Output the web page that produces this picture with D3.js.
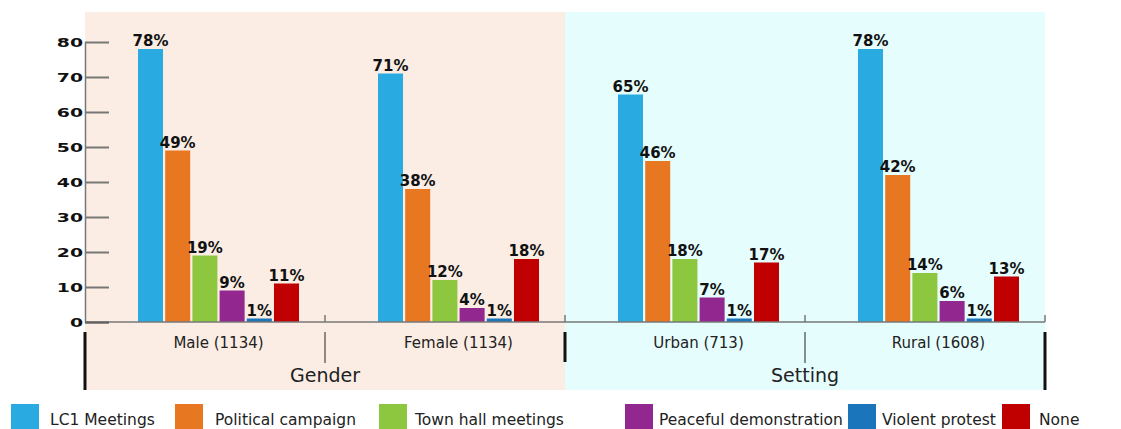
<!DOCTYPE html>
<html>
<head>
<meta charset="utf-8">
<script src="https://cdn.jsdelivr.net/npm/d3@7"></script>
<style>
  body { margin: 0; background: #fff; }
  svg { display: block; font-family: "DejaVu Sans", sans-serif; }
</style>
</head>
<body>
<svg class="chart"></svg>
<script>
const width = 1121,
  height = 429;

const groups = ['Gender', 'Setting'];
const categories = ['Male (1134)', 'Female (1134)', 'Urban (713)', 'Rural (1608)'];
const categoryGroup = ['Gender', 'Gender', 'Setting', 'Setting'];
const series = [
  'LC1 Meetings',
  'Political campaign',
  'Town hall meetings',
  'Peaceful demonstration',
  'Violent protest',
  'None'
];
const colors = ['#29abe2', '#e87722', '#8dc63f', '#92278f', '#1b75bb', '#c00000'];
const lc1Meetings = [78, 71, 65, 78];
const politicalCampaign = [49, 38, 46, 42];
const townHall = [19, 12, 18, 14];
const peaceful = [9, 4, 7, 6];
const violent = [1, 1, 1, 1];
const none = [11, 18, 17, 13];
const yTicks = [0, 10, 20, 30, 40, 50, 60, 70, 80];

const values = [lc1Meetings, politicalCampaign, townHall, peaceful, violent, none];
const groupFills = { 'Gender': '#fbede4', 'Setting': '#e6fdfd' };

const plotLeft = 85, plotRight = 1045, plotTop = 12, plotBottom = 322;

let chart = d3.select(".chart")
  .attr("width", width)
  .attr("height", height);

let y = d3.scaleLinear()
  .domain([0, 80])
  .range([plotBottom, 42]);

let x0 = d3.scaleBand()
  .domain(categories)
  .range([plotLeft, plotRight]);

let x1 = d3.scaleBand()
  .domain(series)
  .range([53, 214])
  .paddingInner(0.08);

let gx = d3.scaleBand()
  .domain(groups)
  .range([plotLeft, plotRight]);

// panel backgrounds
chart.append("g")
  .selectAll("rect")
  .data(groups)
  .join("rect")
  .attr("x", d => gx(d))
  .attr("y", plotTop)
  .attr("width", gx.bandwidth())
  .attr("height", 390 - plotTop)
  .attr("fill", d => groupFills[d]);

// bars
let cat = chart.append("g")
  .selectAll("g")
  .data(categories)
  .join("g")
  .attr("transform", d => `translate(${x0(d)},0)`);

cat.selectAll("rect")
  .data((d, i) => series.map((s, j) => ({ s: s, v: values[j][i], c: colors[j] })))
  .join("rect")
  .attr("x", d => x1(d.s))
  .attr("y", d => y(d.v))
  .attr("width", x1.bandwidth())
  .attr("height", d => y(0) - y(d.v))
  .attr("fill", d => d.c);

cat.selectAll("text")
  .data((d, i) => series.map((s, j) => ({ s: s, v: values[j][i] })))
  .join("text")
  .attr("x", d => x1(d.s) + x1.bandwidth() / 2)
  .attr("y", d => y(d.v) - 3)
  .attr("text-anchor", "middle")
  .attr("font-size", 15)
  .attr("font-weight", "bold")
  .attr("fill", "#111")
  .text(d => d.v + "%");

// y axis
let yAxis = d3.axisLeft(y)
  .tickValues(yTicks)
  .tickSize(0)
  .tickPadding(2);
let ya = chart.append("g")
  .attr("transform", `translate(${plotLeft},0)`)
  .call(yAxis);
ya.select(".domain").attr("stroke", "#777").attr("stroke-width", 1.5);
// wide bold digits like the original
ya.selectAll(".tick text")
  .attr("x", null)
  .attr("transform", "translate(-2,0) scale(1.45,1)")
  .attr("font-size", 13)
  .attr("font-weight", "bold")
  .attr("fill", "#111")
  .style("font-family", "'DejaVu Sans', sans-serif");
ya.selectAll(".tick")
  .append("line")
  .attr("x1", 0)
  .attr("x2", 24)
  .attr("stroke", d => d === 0 ? "#222" : "#777")
  .attr("stroke-width", 2);

// x baseline and category boundaries
chart.append("line")
  .attr("x1", plotLeft).attr("x2", plotRight)
  .attr("y1", y(0)).attr("y2", y(0))
  .attr("stroke", "#777").attr("stroke-width", 1.5);

chart.append("g")
  .selectAll("line")
  .data(categories)
  .join("line")
  .attr("x1", d => x0(d) + x0.bandwidth())
  .attr("x2", d => x0(d) + x0.bandwidth())
  .attr("y1", y(0) - 7)
  .attr("y2", y(0))
  .attr("stroke", "#777")
  .attr("stroke-width", 1.5);

// category labels
chart.append("g")
  .selectAll("text")
  .data(categories)
  .join("text")
  .attr("x", d => x0(d) + (x1.range()[0] + x1.range()[1]) / 2)
  .attr("y", 348)
  .attr("text-anchor", "middle")
  .attr("font-size", 15)
  .attr("fill", "#222")
  .text(d => d);

// separators between categories inside a group
chart.append("g")
  .selectAll("line")
  .data(categories.filter((d, i) => i < categories.length - 1 && categoryGroup[i] === categoryGroup[i + 1]))
  .join("line")
  .attr("x1", d => x0(d) + x0.bandwidth())
  .attr("x2", d => x0(d) + x0.bandwidth())
  .attr("y1", 332)
  .attr("y2", 363)
  .attr("stroke", "#222")
  .attr("stroke-width", 1);

// group borders
let edges = [plotLeft, gx("Setting"), plotRight];
chart.append("g")
  .selectAll("line")
  .data(edges)
  .join("line")
  .attr("x1", d => d)
  .attr("x2", d => d)
  .attr("y1", 332)
  .attr("y2", (d, i) => i === 1 ? 362 : 390)
  .attr("stroke", "#111")
  .attr("stroke-width", 3);

// group labels
chart.append("g")
  .selectAll("text")
  .data(groups)
  .join("text")
  .attr("x", d => gx(d) + gx.bandwidth() / 2)
  .attr("y", 382)
  .attr("text-anchor", "middle")
  .attr("font-size", 19)
  .attr("fill", "#222")
  .text(d => d);

// legend
const legendX = [11, 175, 379, 625, 848, 1002];
let legend = chart.append("g")
  .selectAll("g")
  .data(series)
  .join("g")
  .attr("transform", (d, i) => `translate(${legendX[i]},404)`);
legend.append("rect")
  .attr("width", 28)
  .attr("height", 25)
  .attr("fill", (d, i) => colors[i]);
legend.append("text")
  .attr("x", (d, i) => [39, 40, 36, 34, 34, 37][i])
  .attr("y", 21)
  .attr("font-size", 15.5)
  .attr("fill", "#222")
  .text(d => d);
</script>
</body>
</html>
